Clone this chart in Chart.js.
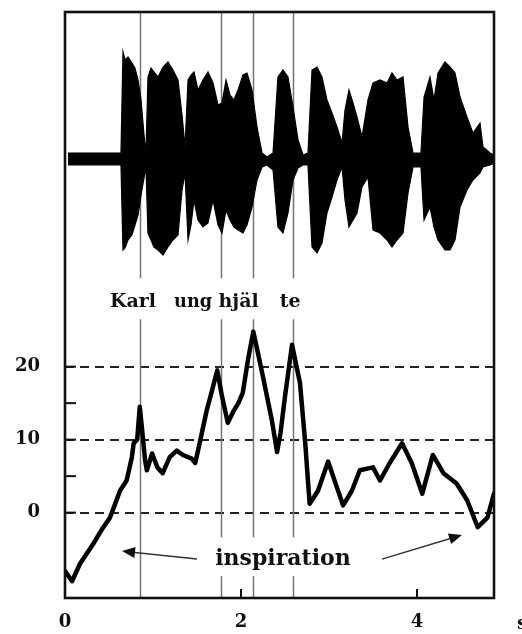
<!DOCTYPE html>
<html><head><meta charset="utf-8">
<script src="https://cdn.jsdelivr.net/npm/chart.js@4.4.1/dist/chart.umd.min.js"></script>
<style>html,body{margin:0;padding:0;background:#fff}canvas{display:block}</style>
</head><body>
<canvas id="c" width="522" height="634"></canvas>
<script>
// ---- data ----
const xTicks = [0, 2, 4];
const yTicks = [0, 5, 10, 15, 20];
const yLabels = [0, 10, 20];
const dashedLevels = [0, 10, 20];

// pressure curve (time s, pressure)
const presT = [0,0.08,0.17,0.32,0.43,0.51,0.57,0.625,0.70,0.76,0.78,0.82,0.85,0.91,0.93,0.99,1.05,1.11,1.19,1.27,1.34,1.44,1.48,1.53,1.61,1.67,1.73,1.78,1.85,1.91,1.97,2.02,2.08,2.14,2.19,2.25,2.35,2.41,2.45,2.5,2.58,2.64,2.67,2.73,2.78,2.875,2.99,3.08,3.16,3.26,3.35,3.5,3.58,3.69,3.83,3.94,4.06,4.18,4.30,4.45,4.57,4.69,4.80,4.875];
const presV = [-8,-9.4,-7,-4.3,-2.1,-0.7,1.2,3,4.4,7.6,9.5,10,14.5,7.2,5.8,8.1,6.2,5.4,7.6,8.5,7.9,7.4,6.8,9.5,14,16.7,19.5,16.2,12.3,13.8,15,16.4,21,24.8,22,18.6,12.7,8.3,11,15.9,23,19.5,17.8,9.5,1.2,3,7,3.8,1,3,5.8,6.2,4.4,6.8,9.5,6.8,2.6,7.9,5.4,4,1.7,-2,-0.7,2.6];

// speech waveform envelope (time s, relative amplitude)
const waveT = [0.034,0.284,0.511,0.636,0.659,0.682,0.716,0.761,0.795,0.830,0.864,0.898,0.920,0.943,0.977,1.011,1.057,1.114,1.170,1.227,1.284,1.330,1.364,1.398,1.432,1.466,1.511,1.568,1.625,1.682,1.739,1.784,1.830,1.875,1.920,1.966,2.023,2.068,2.125,2.182,2.239,2.295,2.364,2.420,2.477,2.534,2.591,2.648,2.705,2.761,2.807,2.864,2.920,2.977,3.034,3.091,3.148,3.182,3.227,3.273,3.318,3.375,3.443,3.500,3.580,3.659,3.716,3.773,3.841,3.898,3.955,4.045,4.080,4.148,4.193,4.239,4.318,4.375,4.432,4.489,4.568,4.636,4.716,4.750,4.830,4.875];
const waveUp = [0.06,0.06,0.06,0.06,1.07,0.99,1.02,0.96,0.91,0.79,0.59,0.24,0.06,0.82,0.91,0.87,0.82,0.92,0.97,0.89,0.79,0.44,0.12,0.79,0.84,0.87,0.69,0.79,0.87,0.76,0.54,0.56,0.79,0.64,0.59,0.69,0.84,0.86,0.69,0.32,0.06,0.02,0.06,0.82,0.89,0.82,0.52,0.19,0.04,0.06,0.89,0.92,0.82,0.59,0.46,0.32,0.16,0.49,0.69,0.56,0.42,0.22,0.59,0.76,0.79,0.76,0.86,0.79,0.82,0.32,0.06,0.06,0.62,0.82,0.59,0.86,0.97,0.92,0.86,0.62,0.42,0.26,0.36,0.12,0.06,0.04];
const waveLo = [-0.06,-0.06,-0.06,-0.06,-0.91,-0.89,-0.81,-0.76,-0.66,-0.56,-0.36,-0.19,-0.08,-0.74,-0.81,-0.88,-0.91,-0.96,-0.88,-0.81,-0.76,-0.31,-0.14,-0.81,-0.66,-0.41,-0.61,-0.68,-0.64,-0.41,-0.66,-0.74,-0.51,-0.61,-0.68,-0.71,-0.74,-0.66,-0.48,-0.21,-0.08,-0.06,-0.11,-0.68,-0.74,-0.54,-0.21,-0.09,-0.06,-0.06,-0.88,-0.94,-0.84,-0.54,-0.38,-0.21,-0.08,-0.41,-0.68,-0.61,-0.54,-0.28,-0.18,-0.71,-0.74,-0.81,-0.88,-0.81,-0.74,-0.34,-0.08,-0.08,-0.61,-0.48,-0.68,-0.81,-0.91,-0.91,-0.81,-0.48,-0.31,-0.21,-0.14,-0.08,-0.06,-0.04];

// syllable boundary markers (s) and their visible segments (pressure units)
const markerT = [0.85, 1.77, 2.14, 2.59];
const markerSegs = [
  [[68.6, 32.1], [26.5, -11.7]],
  [[68.6, 32.1], [26.5, -3.4], [-8.7, -11.7]],
  [[68.6, 32.1], [26.5, -3.4], [-8.7, -11.7]],
  [[68.6, 32.1], [26.5, -3.4], [-8.7, -11.7]]
];
const syllables = ["Karl", "ung", "hjäl", "te"];
const syllableT = [0.51, 1.24, 1.745, 2.44];
const syllableW = [52, 38, 52, 28];
const syllableP = 28.15;
const inspText = "inspiration";
const inspT = 2.477, inspP = -7.2;
const arrows = [[1.50, -6.37, 0.648, -5.27], [3.602, -6.37, 4.511, -3.08]];
const unitLabel = "s";

const serif = "'DejaVu Serif', 'Liberation Serif', serif";

const deco = {
  id: 'deco',
  beforeDraw(ch) {
    const c = ch.ctx; c.save(); c.fillStyle = '#fff'; c.fillRect(0, 0, ch.width, ch.height); c.restore();
  },
  beforeDatasetsDraw(ch) {
    const c = ch.ctx, x = ch.scales.x, y = ch.scales.y;
    c.save(); c.strokeStyle = '#747474'; c.lineWidth = 1.5;
    markerT.forEach((t, i) => {
      const px = Math.round(x.getPixelForValue(t)) + 0.5;
      markerSegs[i].forEach(([a, b]) => {
        c.beginPath(); c.moveTo(px, y.getPixelForValue(a)); c.lineTo(px, y.getPixelForValue(b)); c.stroke();
      });
    });
    c.restore();
  },
  afterDatasetsDraw(ch) {
    const c = ch.ctx, x = ch.scales.x, y = ch.scales.y, a = ch.chartArea;
    c.save();
    // inner ticks
    c.strokeStyle = '#111'; c.lineWidth = 2;
    yTicks.forEach(v => { const py = y.getPixelForValue(v); c.beginPath(); c.moveTo(a.left, py); c.lineTo(a.left + 11, py); c.stroke(); });
    xTicks.forEach(v => { const px = x.getPixelForValue(v); c.beginPath(); c.moveTo(px, a.bottom); c.lineTo(px, a.bottom - 9); c.stroke(); });
    // frame
    c.lineWidth = 2.6; c.strokeStyle = '#111';
    c.strokeRect(a.left, a.top, a.right - a.left, a.bottom - a.top);
    // syllables
    c.fillStyle = '#111'; c.textBaseline = 'alphabetic'; c.textAlign = 'left';
    c.font = 'bold 19px ' + serif;
    syllables.forEach((s, i) => c.fillText(s, x.getPixelForValue(syllableT[i]), y.getPixelForValue(syllableP), syllableW[i]));
    // inspiration
    c.font = 'bold 22px ' + serif; c.textAlign = 'center';
    c.fillText(inspText, x.getPixelForValue(inspT), y.getPixelForValue(inspP));
    // arrows
    c.strokeStyle = '#333'; c.fillStyle = '#111'; c.lineWidth = 1.5;
    arrows.forEach(([t0, p0, t1, p1]) => {
      const x0 = x.getPixelForValue(t0), y0 = y.getPixelForValue(p0), x1 = x.getPixelForValue(t1), y1 = y.getPixelForValue(p1);
      const ang = Math.atan2(y1 - y0, x1 - x0), L = 13, W = 5.5;
      c.beginPath(); c.moveTo(x0, y0); c.lineTo(x1 - Math.cos(ang) * L * 0.8, y1 - Math.sin(ang) * L * 0.8); c.stroke();
      c.beginPath(); c.moveTo(x1, y1);
      c.lineTo(x1 - Math.cos(ang) * L - Math.sin(ang) * W, y1 - Math.sin(ang) * L + Math.cos(ang) * W);
      c.lineTo(x1 - Math.cos(ang) * L + Math.sin(ang) * W, y1 - Math.sin(ang) * L - Math.cos(ang) * W);
      c.closePath(); c.fill();
    });
    // unit label
    c.font = 'bold 18px ' + serif; c.textAlign = 'left'; c.textBaseline = 'middle';
    c.fillText(unitLabel, x.getPixelForValue(5.136), 624);
    c.restore();
  }
};

new Chart(document.getElementById('c'), {
  type: 'line',
  data: {
    datasets: [
      { data: waveT.map((t, i) => ({ x: t, y: waveUp[i] })), yAxisID: 'yW', borderColor: '#000', backgroundColor: '#000', borderWidth: 1.2, pointRadius: 0, fill: '+1', tension: 0 },
      { data: waveT.map((t, i) => ({ x: t, y: waveLo[i] })), yAxisID: 'yW', borderColor: '#000', borderWidth: 1.2, pointRadius: 0, fill: false, tension: 0 },
      { data: presT.map((t, i) => ({ x: t, y: presV[i] })), yAxisID: 'y', borderColor: '#000', borderWidth: 4.5, pointRadius: 0, fill: false, tension: 0, borderJoinStyle: 'round', borderCapStyle: 'round' }
    ]
  },
  options: {
    responsive: false, animation: false, devicePixelRatio: 1,
    layout: { padding: { top: 12, right: 28, left: 0, bottom: 0 } },
    plugins: { legend: { display: false }, tooltip: { enabled: false } },
    scales: {
      x: {
        type: 'linear', min: 0, max: 4.875, position: 'bottom',
        afterBuildTicks: s => { s.ticks = xTicks.map(v => ({ value: v })); },
        afterFit: s => { s.height = 36; s.paddingLeft = 0; s.paddingRight = 0; },
        grid: { display: false, drawTicks: false, tickLength: 0 },
        border: { display: false },
        ticks: { color: '#111', font: { family: serif, size: 18, weight: 'bold' }, padding: 14, maxRotation: 0 }
      },
      y: {
        type: 'linear', min: -11.7, max: 68.6, position: 'left',
        afterBuildTicks: s => { s.ticks = yTicks.map(v => ({ value: v })); },
        afterFit: s => { s.width = 65; s.paddingTop = 0; s.paddingBottom = 0; },
        grid: {
          drawTicks: false, tickLength: 0, lineWidth: 2,
          color: ctx => dashedLevels.includes(ctx.tick && ctx.tick.value) ? '#222' : 'rgba(0,0,0,0)'
        },
        border: { display: false, dash: [9, 6] },
        ticks: { color: '#111', font: { family: serif, size: 18, weight: 'bold' }, padding: 25,
          callback: v => yLabels.includes(v) ? String(v) : '' }
      },
      yW: { type: 'linear', min: -4.39, max: 1.47, display: false }
    }
  },
  plugins: [deco]
});
</script>
</body></html>
